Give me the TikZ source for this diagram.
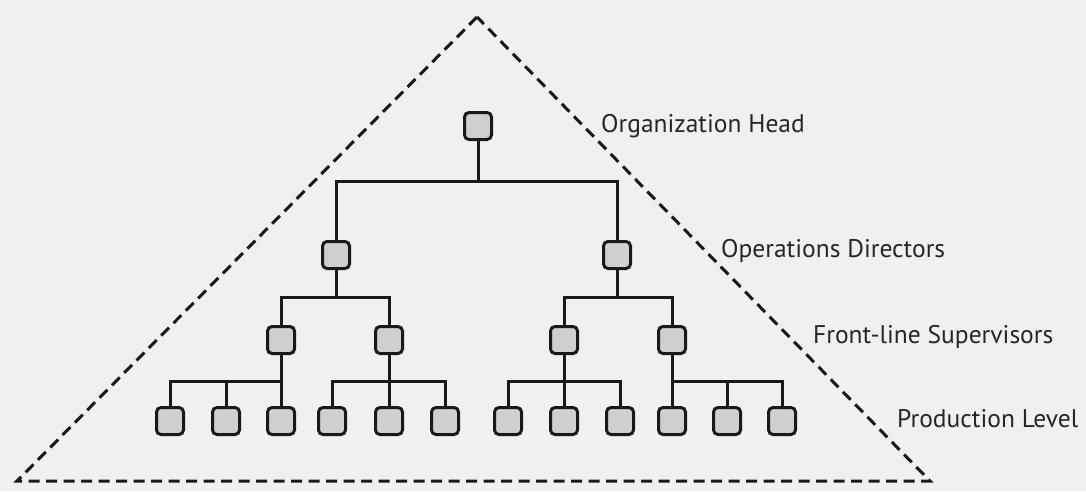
\documentclass[tikz,border=0pt]{standalone}
\usepackage{fontspec}
\setmainfont{PT Sans}
\begin{document}
\begin{tikzpicture}[x=1pt,y=-1pt,
  unit/.style={draw=black!90,fill=black!19,line width=3pt,rounded corners=4.5pt,
    minimum width=27pt,minimum height=27pt,inner sep=0pt},
  link/.style={draw=black!90,line width=3pt},
  frame/.style={draw=black!90,line width=3pt,dash pattern=on 11pt off 6.5pt,line join=miter},
  level/.style={anchor=base west,text=black!85,font=\fontsize{25.5}{28}\selectfont,inner sep=0pt}]
  % background
  \fill[black!6] (0,0) rectangle (1086,491);
  \useasboundingbox (0,0) rectangle (1086,491);
  % dashed pyramid outline
  \coordinate (apex) at (477,17);
  \coordinate (bl) at (17,481);
  \coordinate (br) at (930,481);
  \draw[frame] (apex) -- (bl) -- (br) -- cycle;
  % bar heights
  \coordinate (bar1) at (0,181);
  \coordinate (bar2) at (0,297);
  \coordinate (bar3) at (0,381);
  % units
  \node[unit] (head) at (478,126) {};
  \node[unit] (d1) at (336,255) {};
  \node[unit] (d2) at (617,255) {};
  \node[unit] (s1) at (281,340) {};
  \node[unit] (s2) at (389,340) {};
  \node[unit] (s3) at (564,340) {};
  \node[unit] (s4) at (672,340) {};
  \foreach \n/\x in {1/170,2/226,3/281,4/332,5/389,6/445,7/508,8/564,9/620,10/672,11/727,12/782}
    \node[unit] (p\n) at (\x,421) {};
  % head to directors
  \draw[link] (head.south) -- (head.south |- bar1);
  \draw[link] (head.south |- bar1) -| (d1.north);
  \draw[link] (head.south |- bar1) -| (d2.north);
  % directors to supervisors
  \foreach \d/\a/\b in {d1/s1/s2,d2/s3/s4}{
    \draw[link] (\d.south) -- (\d.south |- bar2);
    \draw[link] (\d.south |- bar2) -| (\a.north);
    \draw[link] (\d.south |- bar2) -| (\b.north);
  }
  % supervisors to production units
  \foreach \s/\a/\b/\c in {s1/p1/p2/p3,s2/p4/p5/p6,s3/p7/p8/p9,s4/p10/p11/p12}{
    \draw[link] (\s.south) -- (\s.south |- bar3);
    \draw[link] (\s.south |- bar3) -| (\a.north);
    \draw[link] (\s.south |- bar3) -| (\b.north);
    \draw[link] (\s.south |- bar3) -| (\c.north);
  }
  % level labels
  \node[level] (lh) at (601,132) {Organization Head};
  \node[level] (ld) at (721,257) {Operations Directors};
  \node[level] (ls) at (813,343) {Front-line Supervisors};
  \node[level] (lp) at (897,427) {Production Level};
\end{tikzpicture}
\end{document}
